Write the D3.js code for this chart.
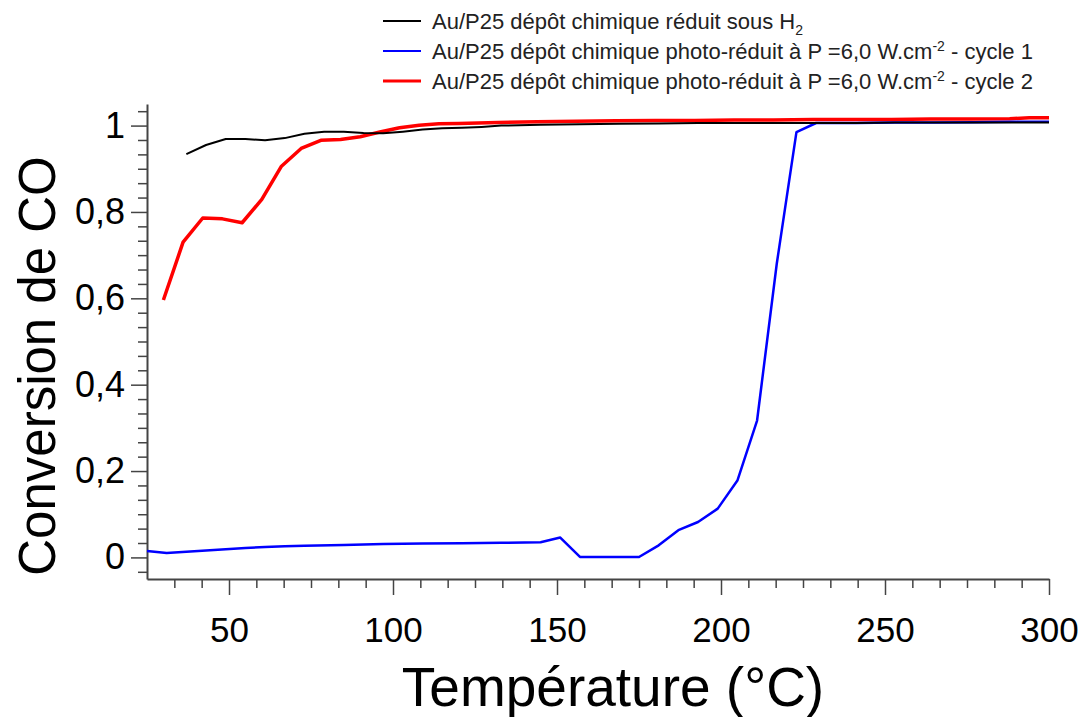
<!DOCTYPE html>
<html>
<head>
<meta charset="utf-8">
<script src="https://cdn.jsdelivr.net/npm/d3@7"></script>
<style>
  html, body { margin: 0; padding: 0; background: #fff; }
  svg { display: block; font-family: "Liberation Sans", Arial, sans-serif; }
</style>
</head>
<body>
<svg id="chart" width="1084" height="717"></svg>
<script>
// ---- data ----
const seriesNames = [
  "Au/P25 dépôt chimique réduit sous H",
  "Au/P25 dépôt chimique photo-réduit à P =6,0 W.cm",
  "Au/P25 dépôt chimique photo-réduit à P =6,0 W.cm"
];
const seriesColors = ["#000000", "#0000ff", "#ff0000"];

const blackT = [37,43,49,55,61,67,73,79,85,91,97,103,109,115,121,127,133,145,157,169,181,193,205,217,229,241,253,265,277,289,300];
const blackV = [0.934,0.955,0.969,0.969,0.966,0.971,0.981,0.986,0.986,0.983,0.982,0.986,0.991,0.994,0.995,0.997,1.000,1.002,1.003,1.004,1.005,1.006,1.006,1.006,1.006,1.006,1.007,1.007,1.007,1.007,1.007];

const blueT = [25,31,37,43,49,55,61,67,73,85,97,109,121,133,145,151,157,163,169,175,181,187,193,199,205,211,217,223,229,241,253,265,277,289,300];
const blueV = [0.015,0.010,0.013,0.016,0.019,0.022,0.024,0.026,0.027,0.029,0.031,0.032,0.033,0.034,0.035,0.046,0.001,0.001,0.001,0.001,0.028,0.063,0.082,0.113,0.178,0.317,0.680,0.985,1.006,1.006,1.007,1.007,1.008,1.009,1.009];

const redT = [30,36,42,48,54,60,66,72,78,84,90,96,102,108,114,120,132,144,156,168,180,192,204,216,228,240,252,264,276,288,294,300];
const redV = [0.596,0.730,0.786,0.784,0.775,0.829,0.906,0.947,0.966,0.968,0.974,0.985,0.995,1.001,1.004,1.005,1.007,1.009,1.010,1.011,1.012,1.012,1.013,1.013,1.014,1.014,1.014,1.015,1.015,1.016,1.018,1.018];

const xMajorTicks = [50,100,150,200,250,300];
const yMajorTicks = [0,0.2,0.4,0.6,0.8,1];
const xTitle = "Température (°C)";
const yTitle = "Conversion de CO";

// ---- layout ----
const FONT = "'Liberation Sans', Arial, sans-serif";
const svg = d3.select("#chart");
const x = d3.scaleLinear().domain([25, 300]).range([147, 1049]);
const y = d3.scaleLinear().domain([-0.05, 1.05]).range([579, 104]);

const xMinor = d3.range(25 + 50/6, 300.01, 50/6).filter(v => Math.abs(((v - 50) / 50) - Math.round((v - 50) / 50)) > 1e-6);
const yMinor = d3.range(-0.2/6, 1.05, 0.2/6).filter(v => Math.abs(v / 0.2 - Math.round(v / 0.2)) > 1e-6);

const axisColor = "#444";
const fmt = v => (v === 0 || v === 1) ? String(v) : d3.format(".1f")(v).replace(".", ",");

// minor x ticks
svg.append("g").attr("transform", "translate(0,579)")
  .call(d3.axisBottom(x).tickValues(xMinor).tickSize(9).tickFormat(""))
  .call(g => g.select(".domain").remove())
  .call(g => g.selectAll("line").attr("stroke", axisColor).attr("stroke-width", 1.5));
// major x ticks
svg.append("g").attr("transform", "translate(0,579)")
  .call(d3.axisBottom(x).tickValues(xMajorTicks).tickSize(16).tickSizeOuter(0).tickPadding(22).tickFormat(d3.format("d")))
  .call(g => g.select(".domain").attr("stroke", axisColor).attr("stroke-width", 2))
  .call(g => g.selectAll("line").attr("stroke", axisColor).attr("stroke-width", 1.5))
  .call(g => g.selectAll("text").attr("font-size", 35).attr("fill", "#000").attr("font-family", FONT));

// minor y ticks
svg.append("g").attr("transform", "translate(147,0)")
  .call(d3.axisLeft(y).tickValues(yMinor).tickSize(9).tickFormat(""))
  .call(g => g.select(".domain").remove())
  .call(g => g.selectAll("line").attr("stroke", axisColor).attr("stroke-width", 1.5));
// major y ticks
svg.append("g").attr("transform", "translate(147,0)")
  .call(d3.axisLeft(y).tickValues(yMajorTicks).tickSize(16).tickSizeOuter(0).tickPadding(6).tickFormat(fmt))
  .call(g => g.select(".domain").attr("stroke", axisColor).attr("stroke-width", 2))
  .call(g => g.selectAll("line").attr("stroke", axisColor).attr("stroke-width", 1.5))
  .call(g => g.selectAll("text").attr("font-size", 36).attr("fill", "#000").attr("font-family", FONT));

// axis titles
svg.append("text").attr("x", 613).attr("y", 706).attr("text-anchor", "middle")
  .attr("font-size", 55).attr("fill", "#000").text(xTitle);
svg.append("text").attr("transform", "translate(55,366) rotate(-90)").attr("text-anchor", "middle")
  .attr("font-size", 51).attr("fill", "#000").text(yTitle);

// lines
const line = d3.line().x(d => x(d[0])).y(d => y(d[1]));
const series = [
  { t: blackT, v: blackV, color: seriesColors[0], w: 2 },
  { t: blueT, v: blueV, color: seriesColors[1], w: 2.5 },
  { t: redT, v: redV, color: seriesColors[2], w: 3.5 }
];
const plot = svg.append("g");
[series[2], series[1], series[0]].forEach(s => {
  plot.append("path")
    .datum(s.t.map((t, i) => [t, s.v[i]]))
    .attr("fill", "none").attr("stroke", s.color).attr("stroke-width", s.w)
    .attr("stroke-linejoin", "round")
    .attr("d", line);
});

// legend
const legend = svg.append("g").attr("font-size", 22);
const legendY = [21, 51, 81];
const legendScripts = [
  [{ t: "2", dy: 6 }],
  [{ t: "-2", dy: -8 }, { t: " - cycle 1", dy: 8 }],
  [{ t: "-2", dy: -8 }, { t: " - cycle 2", dy: 8 }]
];
seriesNames.forEach((name, i) => {
  legend.append("line").attr("x1", 383).attr("x2", 421).attr("y1", legendY[i]).attr("y2", legendY[i])
    .attr("stroke", seriesColors[i]).attr("stroke-width", i === 2 ? 3 : 2);
  const tx = legend.append("text").attr("x", 432).attr("y", legendY[i] + 8).attr("fill", "#222");
  tx.append("tspan").text(name);
  legendScripts[i].forEach(p => {
    const ts = tx.append("tspan").attr("dy", p.dy).text(p.t);
    if (p.t === "2" || p.t === "-2") ts.attr("font-size", 14);
  });
});
</script>
</body>
</html>
